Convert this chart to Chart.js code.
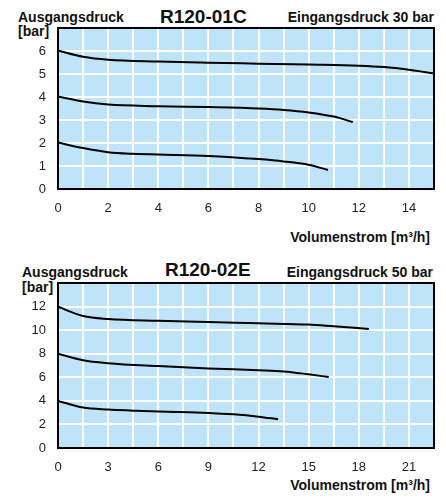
<!DOCTYPE html>
<html><head><meta charset="utf-8">
<script src="https://cdn.jsdelivr.net/npm/chart.js@4/dist/chart.umd.min.js"></script>
<style>
html,body{margin:0;padding:0;background:#fff;}
body{width:446px;height:499px;position:relative;overflow:hidden;font-family:"Liberation Sans",Arial,sans-serif;}
.t{position:absolute;font-weight:bold;color:#111;white-space:nowrap;line-height:1;}
.s{font-size:14px;}
.big{font-size:19px;}
canvas{position:absolute;left:0;}
</style></head><body>
<div class="t s" style="left:18px;top:10px;">Ausgangsdruck</div>
<div class="t s" style="left:18px;top:24px;">[bar]</div>
<div class="t big" style="left:160px;top:7px;">R120-01C</div>
<div class="t s" style="right:12px;top:10px;">Eingangsdruck 30 bar</div>
<div class="t s" style="right:16px;top:230px;">Volumenstrom [m³/h]</div>
<canvas id="c1" width="446" height="250" style="top:0"></canvas>

<div class="t s" style="left:22px;top:265px;">Ausgangsdruck</div>
<div class="t s" style="left:22px;top:280px;">[bar]</div>
<div class="t big" style="left:165px;top:260px;">R120-02E</div>
<div class="t s" style="right:13px;top:265px;">Eingangsdruck 50 bar</div>
<div class="t s" style="right:16px;top:478px;">Volumenstrom [m³/h]</div>
<canvas id="c2" width="446" height="249" style="top:250px"></canvas>
<script>
// Chart 1: R120-01C, Eingangsdruck 30 bar
const flow1A = [0, 1, 2, 4, 6, 8, 10, 12, 13, 14, 15];
const press1A = [6.02, 5.75, 5.62, 5.54, 5.49, 5.45, 5.41, 5.36, 5.3, 5.18, 5.02];
const flow1B = [0, 1, 2, 4, 6, 8, 9, 10, 11, 11.76];
const press1B = [4.02, 3.8, 3.67, 3.6, 3.56, 3.5, 3.44, 3.33, 3.15, 2.91];
const flow1C = [0, 1, 2, 3, 4, 6, 8, 9, 10, 10.77];
const press1C = [2.02, 1.78, 1.6, 1.53, 1.5, 1.44, 1.3, 1.2, 1.05, 0.83];

// Chart 2: R120-02E, Eingangsdruck 50 bar
const flow2A = [0, 1.5, 3, 6, 9, 12, 15, 16.5, 18.6];
const press2A = [11.98, 11.2, 10.95, 10.8, 10.7, 10.58, 10.47, 10.32, 10.1];
const flow2B = [0, 1.5, 3, 6, 9, 12, 13.5, 15, 16.2];
const press2B = [8.0, 7.45, 7.2, 6.95, 6.75, 6.6, 6.5, 6.25, 6.02];
const flow2C = [0, 1.5, 3, 4.5, 6, 9, 10.5, 12, 13.17];
const press2C = [4.0, 3.43, 3.26, 3.17, 3.09, 2.98, 2.86, 2.66, 2.44];

const yTicks1 = {min: 0, max: 7, step: 1};
const xTicks1 = {min: 0, max: 15, step: 1, labelEvery: 2};
const yTicks2 = {min: 0, max: 14, step: 2};
const xTicks2 = {min: 0, max: 22.5, step: 1.5, labelEvery: 3};

const pts = (xs, ys) => xs.map((x, i) => ({x: x, y: ys[i]}));

const frame = {
  id: 'frame',
  beforeDraw(chart) {
    const a = chart.chartArea, c = chart.ctx;
    c.save(); c.fillStyle = '#bfe4f9'; c.fillRect(a.left, a.top, a.right - a.left, a.bottom - a.top); c.restore();
  },
  afterDatasetsDraw(chart) {
    const a = chart.chartArea, c = chart.ctx;
    c.save(); c.strokeStyle = '#000'; c.lineWidth = 2;
    c.strokeRect(a.left, a.top, a.right - a.left, a.bottom - a.top); c.restore();
  }
};

function makeChart(id, series, xt, yt, pad) {
  const ds = series.map(s => ({
    data: pts(s[0], s[1]), borderColor: '#000', borderWidth: 2, pointRadius: 0,
    cubicInterpolationMode: 'monotone', fill: false
  }));
  return new Chart(document.getElementById(id), {
    type: 'line',
    data: {datasets: ds},
    options: {
      responsive: false, animation: false, devicePixelRatio: 1,
      layout: {padding: pad},
      plugins: {legend: {display: false}, tooltip: {enabled: false}},
      scales: {
        x: {
          type: 'linear', min: xt.min, max: xt.max,
          grid: {color: '#fff', lineWidth: 2, drawTicks: false},
          border: {color: '#000', width: 2},
          afterFit: s => { s.height = 30; },
          afterBuildTicks: s => {
            const t = [];
            for (let v = xt.min; v <= xt.max + 1e-9; v += xt.step) t.push({value: Math.round(v * 100) / 100});
            s.ticks = t;
          },
          ticks: {
            autoSkip: false, maxRotation: 0, padding: 12, color: '#222',
            font: {family: 'Liberation Sans', size: 13},
            callback: v => (Math.abs(v / xt.labelEvery - Math.round(v / xt.labelEvery)) < 1e-6 && v < xt.max - 1e-6) ? String(v) : ''
          }
        },
        y: {
          min: yt.min, max: yt.max,
          grid: {color: '#fff', lineWidth: 2, drawTicks: false},
          border: {color: '#000', width: 2},
          afterFit: s => { s.width = 58; },
          ticks: {
            stepSize: yt.step, padding: 12, color: '#222',
            font: {family: 'Liberation Sans', size: 13},
            callback: v => v < yt.max ? String(v) : ''
          }
        }
      }
    },
    plugins: [frame]
  });
}

makeChart('c1', [[flow1A, press1A], [flow1B, press1B], [flow1C, press1C]], xTicks1, yTicks1,
  {left: 0, right: 12, top: 28, bottom: 31});
makeChart('c2', [[flow2A, press2A], [flow2B, press2B], [flow2C, press2C]], xTicks2, yTicks2,
  {left: 0, right: 12, top: 33, bottom: 21});
</script>
</body></html>
